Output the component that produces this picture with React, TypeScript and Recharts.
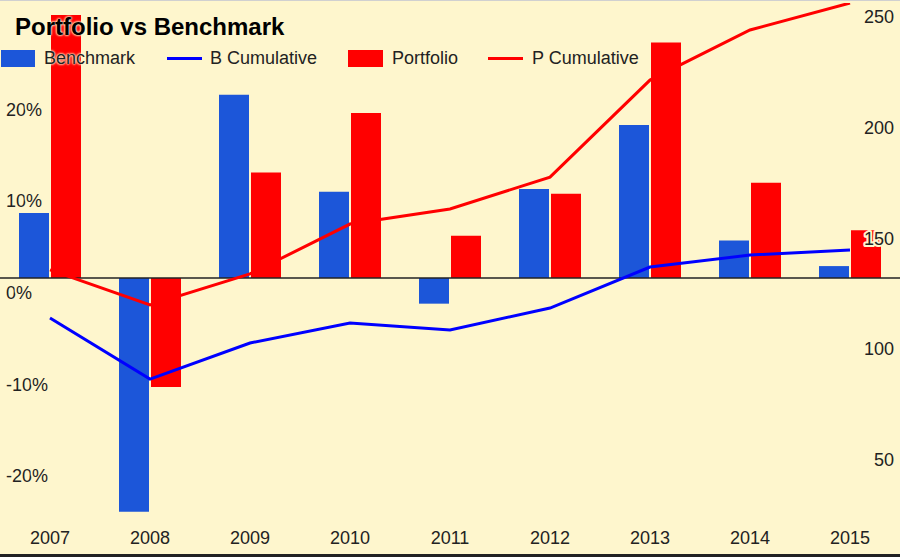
import React from 'react'
import { ComposedChart, Bar, Line, XAxis, YAxis, CartesianGrid, ReferenceLine } from 'recharts'

const YEARS = ['2007', '2008', '2009', '2010', '2011', '2012', '2013', '2014', '2015']
// yearly returns in %
const BENCHMARK = [7.1, -25.5, 20.0, 9.4, -2.8, 9.7, 16.7, 4.1, 1.3]
const PORTFOLIO = [28.7, -11.9, 11.5, 18.0, 4.6, 9.2, 25.7, 10.4, 5.2]
// cumulative value (right axis)
const B_CUMULATIVE = [107.8, 80.2, 96.5, 105.5, 102.4, 112.3, 130.8, 136.2, 138.5]
const P_CUMULATIVE = [129.5, 113.7, 127.7, 150.2, 157.0, 171.4, 215.2, 237.8, 250.0]

const LEFT_TICKS = [-20, -10, 0, 10, 20]
const RIGHT_TICKS = [50, 100, 150, 200, 250]
const LEFT_DOMAIN = [-26.4, 30]
const RIGHT_DOMAIN = [16.6, 250]

const data = YEARS.map((year, i) => ({
  year,
  benchmark: BENCHMARK[i],
  portfolio: PORTFOLIO[i],
  bCum: B_CUMULATIVE[i],
  pCum: P_CUMULATIVE[i],
}))

const BG = '#fef6cd'
const BLUE_BAR = '#1c56d9'
const RED = '#ff0000'
const BLUE_LINE = '#0000ff'
const FONT = 'Arial, "Liberation Sans", sans-serif'
const MARGIN = { top: 3, right: 0, bottom: 0, left: 0 }

const halo = { stroke: BG, strokeWidth: 4, paintOrder: 'stroke', strokeLinejoin: 'round' } as any

const renderLeftTick = (props: any) => (
  <text
    key={`l-${props.payload.value}`}
    x={props.x}
    y={props.y + 21}
    textAnchor="start"
    fill="#222"
    fontSize={18}
    fontFamily={FONT}
    {...halo}
  >
    {props.payload.value}%
  </text>
)

const renderRightTick = (props: any) => (
  <text
    key={`r-${props.payload.value}`}
    x={props.x}
    y={props.y + 20}
    textAnchor="end"
    fill="#222"
    fontSize={18}
    fontFamily={FONT}
    {...halo}
  >
    {props.payload.value}
  </text>
)

const renderYearTick = (props: any) => (
  <text
    key={`x-${props.payload.value}`}
    x={props.x}
    y={props.y + 24}
    textAnchor="middle"
    fill="#222"
    fontSize={18}
    fontFamily={FONT}
  >
    {props.payload.value}
  </text>
)

const legendText: React.CSSProperties = {
  position: 'absolute',
  top: 46,
  fontSize: 18,
  color: '#222',
  fontFamily: FONT,
  lineHeight: '24px',
  textShadow: `0 0 2px ${BG}, 0 0 2px ${BG}, 0 0 3px ${BG}`,
}

// value axes; the labels go in a second layer so they sit above the bars
function valueAxes(withTicks: boolean) {
  return [
    <YAxis
      key="yl"
      yAxisId={0}
      orientation="left"
      mirror
      width={1}
      type="number"
      domain={LEFT_DOMAIN}
      ticks={LEFT_TICKS}
      interval={0}
      allowDataOverflow
      axisLine={false}
      tickLine={false}
      tickSize={0}
      tickMargin={6}
      tick={withTicks ? renderLeftTick : false}
    />,
    <YAxis
      key="yr"
      yAxisId="right"
      orientation="right"
      mirror
      width={1}
      type="number"
      domain={RIGHT_DOMAIN}
      ticks={RIGHT_TICKS}
      interval={0}
      allowDataOverflow
      axisLine={false}
      tickLine={false}
      tickSize={0}
      tickMargin={6}
      tick={withTicks ? renderRightTick : false}
    />,
  ]
}

export default function App() {
  return (
    <div
      style={{
        position: 'fixed',
        left: 0,
        top: 0,
        width: 900,
        height: 557,
        background: BG,
        overflow: 'hidden',
      }}
    >
      <ComposedChart width={900} height={557} data={data} margin={MARGIN} barGap={2}>
        <CartesianGrid vertical={false} stroke="#d2d0c4" syncWithTicks yAxisId={0} />
        <XAxis
          dataKey="year"
          height={37}
          axisLine={false}
          tickLine={false}
          tickSize={0}
          tickMargin={0}
          interval={0}
          tick={renderYearTick}
        />
        {valueAxes(false)}
        <ReferenceLine y={0} yAxisId={0} stroke="#222" strokeWidth={1.5} />
        <Bar dataKey="benchmark" name="Benchmark" yAxisId={0} fill={BLUE_BAR} barSize={30} isAnimationActive={false} />
        <Bar dataKey="portfolio" name="Portfolio" yAxisId={0} fill={RED} barSize={30} isAnimationActive={false} />
        <Line
          dataKey="bCum"
          name="B Cumulative"
          yAxisId="right"
          type="linear"
          stroke={BLUE_LINE}
          strokeWidth={3}
          dot={false}
          isAnimationActive={false}
        />
        <Line
          dataKey="pCum"
          name="P Cumulative"
          yAxisId="right"
          type="linear"
          stroke={RED}
          strokeWidth={3}
          dot={false}
          isAnimationActive={false}
        />
      </ComposedChart>

      <div style={{ position: 'absolute', left: 0, top: 0, pointerEvents: 'none' }}>
        <ComposedChart width={900} height={557} data={data} margin={MARGIN}>
          <XAxis dataKey="year" height={37} axisLine={false} tickLine={false} tick={false} />
          {valueAxes(true)}
        </ComposedChart>
      </div>

      <div
        style={{
          position: 'absolute',
          left: 15,
          top: 12,
          fontSize: 24,
          fontWeight: 'bold',
          fontFamily: FONT,
          color: '#000',
          lineHeight: '30px',
          textShadow: `0 0 2px ${BG}, 0 0 2px ${BG}, 0 0 3px ${BG}`,
        }}
      >
        Portfolio vs Benchmark
      </div>

      <div style={{ position: 'absolute', left: 1, top: 50, width: 34, height: 17, background: BLUE_BAR }} />
      <div style={{ ...legendText, left: 44 }}>Benchmark</div>
      <div style={{ position: 'absolute', left: 167, top: 57, width: 35, height: 3, background: BLUE_LINE }} />
      <div style={{ ...legendText, left: 210 }}>B Cumulative</div>
      <div style={{ position: 'absolute', left: 348, top: 50, width: 35, height: 17, background: RED }} />
      <div style={{ ...legendText, left: 392 }}>Portfolio</div>
      <div style={{ position: 'absolute', left: 488, top: 57, width: 35, height: 3, background: RED }} />
      <div style={{ ...legendText, left: 532 }}>P Cumulative</div>

      <div style={{ position: 'absolute', left: 0, top: 0, width: 900, height: 1, background: '#d0d0d0' }} />
      <div style={{ position: 'absolute', left: 0, top: 554, width: 900, height: 3, background: '#222' }} />
    </div>
  )
}
